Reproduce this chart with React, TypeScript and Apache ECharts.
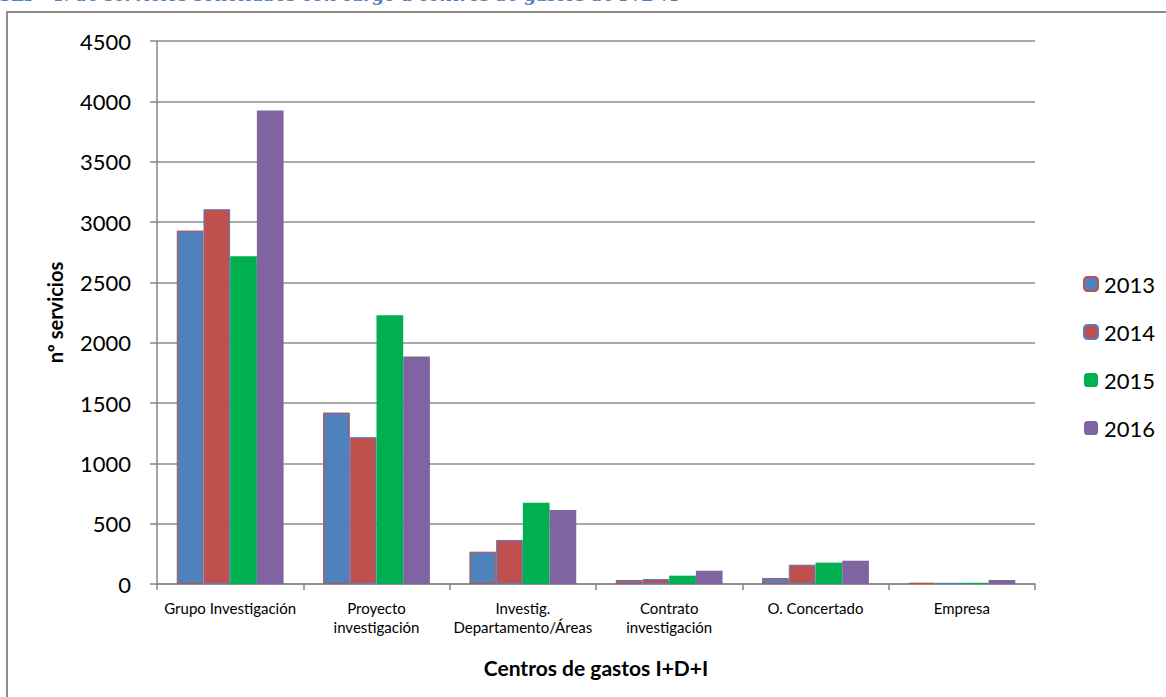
import React, { useEffect, useRef } from "react";
import * as echarts from "echarts";

const categories = [
  "Grupo Investigación",
  "Proyecto\ninvestigación",
  "Investig.\nDepartamento/Áreas",
  "Contrato\ninvestigación",
  "O. Concertado",
  "Empresa",
];
const years = ["2013", "2014", "2015", "2016"];
const v2013 = [2929, 1421, 268, 33, 50, 11];
const v2014 = [3106, 1217, 365, 41, 160, 10];
const v2015 = [2717, 2228, 674, 69, 177, 10];
const v2016 = [3924, 1885, 613, 110, 193, 33];
const yTicks = { min: 0, max: 4500, interval: 500 };

const FONT = "Lato, 'Open Sans', sans-serif";

export default function App() {
  const ref = useRef<HTMLDivElement>(null);
  useEffect(() => {
    if (!ref.current) return;
    const chart = echarts.init(ref.current, undefined, { renderer: "svg" });
    const mk = (name: string, data: number[], color: string, border: string, bw: number) => ({
      name,
      type: "bar",
      data,
      barGap: "0%",
      barCategoryGap: "27%",
      itemStyle: { color, borderColor: border, borderWidth: bw },
    });
    chart.setOption({
      animation: false,
      backgroundColor: "#ffffff",
      textStyle: { fontFamily: FONT },
      grid: { left: 157, right: 131, top: 41, bottom: 113, containLabel: false },
      legend: {
        orient: "vertical",
        left: 1078,
        top: 268,
        itemWidth: 14,
        itemHeight: 14,
        itemGap: 26,
        data: years,
        textStyle: { fontSize: 22, color: "#000", fontFamily: FONT, padding: [0, 0, 0, 1] },
      },
      xAxis: {
        type: "category",
        data: categories,
        name: "Centros de gastos I+D+I",
        nameLocation: "middle",
        nameGap: 73,
        nameTextStyle: { fontSize: 21, fontWeight: "bold", color: "#000", fontFamily: FONT },
        axisLine: { lineStyle: { color: "#868686", width: 1.5 } },
        axisTick: { show: true, length: 6, lineStyle: { color: "#868686", width: 1.5 } },
        axisLabel: { fontSize: 15, color: "#000", margin: 14, lineHeight: 19, interval: 0, fontFamily: FONT },
      },
      yAxis: {
        type: "value",
        min: yTicks.min,
        max: yTicks.max,
        interval: yTicks.interval,
        name: "nº servicios",
        nameLocation: "middle",
        nameRotate: 90,
        nameGap: 92,
        nameTextStyle: { fontSize: 20, fontWeight: "bold", color: "#000", fontFamily: FONT },
        axisLine: { show: true, lineStyle: { color: "#868686", width: 1.5 } },
        axisTick: { show: true, length: 7, lineStyle: { color: "#868686", width: 1.5 } },
        axisLabel: {
          fontSize: 22,
          color: "#000",
          margin: 26,
          fontFamily: FONT,
          formatter: (v: number) => String(v),
        },
        splitLine: { show: true, lineStyle: { color: "#8c8c8c", width: 1.5 } },
      },
      graphic: [
        {
          type: "rect",
          shape: { x: 7, y: 12, width: 1300, height: 800 },
          style: { fill: "none", stroke: "#8c8c8c", lineWidth: 2 },
          silent: true,
        },
        {
          type: "text",
          x: 0,
          y: -14,
          style: {
            text: "SEI - 4: de servicios solicitados con cargo a centros de gastos de I+D+I",
            fill: "#4F81BD",
            font: "italic bold 17px 'DejaVu Serif', serif",
            textVerticalAlign: "top",
          },
          silent: true,
        },
      ],
      series: [
        mk("2013", v2013, "#4F81BD", "#C0504D", 1),
        mk("2014", v2014, "#C0504D", "#4F81BD", 1),
        mk("2015", v2015, "#00B050", "#00B050", 0),
        mk("2016", v2016, "#8064A2", "#8064A2", 0),
      ],
    });
    return () => chart.dispose();
  }, []);
  return (
    <div
      ref={ref}
      style={{ position: "fixed", left: 0, top: 0, width: 1166, height: 697 }}
    />
  );
}
